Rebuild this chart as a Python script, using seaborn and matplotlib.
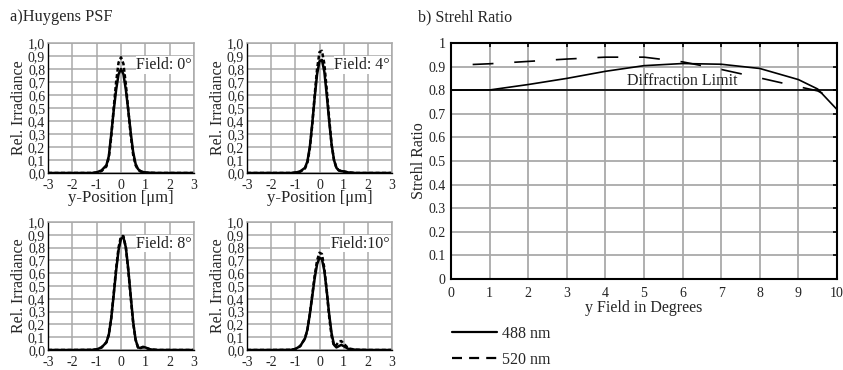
import numpy as np
import pandas as pd
import matplotlib
matplotlib.use("Agg")
import matplotlib.pyplot as plt
from matplotlib.lines import Line2D
import seaborn as sns

# ---------------- data ----------------
psf_x = [-3, -2, -1.2, -1.0, -0.8, -0.6, -0.5, -0.4, -0.3, -0.2, -0.1, 0.0,
         0.1, 0.2, 0.3, 0.4, 0.5, 0.6, 0.7, 0.8, 0.9, 1.0, 1.2, 1.5, 2, 3]

f0_488 = [0, 0, 0, 0.005, 0.02, 0.06, 0.13, 0.30, 0.48, 0.64, 0.76, 0.80,
          0.76, 0.64, 0.48, 0.31, 0.16, 0.07, 0.03, 0.015, 0.008, 0.004, 0.002, 0, 0, 0]
f0_520 = [0, 0, 0, 0.004, 0.015, 0.05, 0.12, 0.28, 0.50, 0.70, 0.85, 0.89,
          0.84, 0.68, 0.48, 0.29, 0.14, 0.06, 0.025, 0.012, 0.006, 0.003, 0.001, 0, 0, 0]
f4_488 = [0, 0, 0, 0.003, 0.012, 0.04, 0.09, 0.20, 0.38, 0.58, 0.76, 0.86,
          0.87, 0.78, 0.60, 0.40, 0.22, 0.10, 0.04, 0.02, 0.015, 0.012, 0.004, 0, 0, 0]
f4_520 = [0, 0, 0, 0.003, 0.01, 0.035, 0.08, 0.19, 0.37, 0.60, 0.80, 0.93,
          0.94, 0.84, 0.64, 0.42, 0.22, 0.10, 0.04, 0.02, 0.015, 0.012, 0.004, 0, 0, 0]
f8_488 = [0, 0, 0.001, 0.005, 0.02, 0.06, 0.12, 0.25, 0.43, 0.62, 0.78, 0.87,
          0.88, 0.80, 0.63, 0.42, 0.22, 0.08, 0.02, 0.015, 0.025, 0.02, 0.005, 0, 0, 0]
f8_520 = [0, 0, 0.001, 0.005, 0.02, 0.06, 0.12, 0.25, 0.44, 0.64, 0.80, 0.89,
          0.89, 0.80, 0.62, 0.41, 0.21, 0.08, 0.02, 0.015, 0.022, 0.018, 0.005, 0, 0, 0]
f10_488 = [0, 0, 0.001, 0.008, 0.03, 0.09, 0.16, 0.28, 0.42, 0.56, 0.67, 0.72,
           0.71, 0.62, 0.46, 0.28, 0.13, 0.04, 0.02, 0.03, 0.04, 0.03, 0.008, 0.002, 0, 0]
f10_520 = [0, 0, 0.001, 0.008, 0.03, 0.09, 0.16, 0.28, 0.43, 0.58, 0.70, 0.76,
           0.75, 0.64, 0.46, 0.26, 0.11, 0.03, 0.04, 0.065, 0.07, 0.05, 0.012, 0.002, 0, 0]

field_labels = ["Field: 0°", "Field: 4°", "Field: 8°", "Field:10°"]
psf_ticks_x = [-3, -2, -1, 0, 1, 2, 3]
psf_ticks_y = [0.0, 0.1, 0.2, 0.3, 0.4, 0.5, 0.6, 0.7, 0.8, 0.9, 1.0]
psf_ticklabels_y = ["0,0", "0,1", "0,2", "0,3", "0,4", "0,5", "0,6", "0,7", "0,8", "0,9", "1,0"]

strehl_x_488 = [0, 1, 2, 3, 4, 5, 6, 7, 8, 9, 9.5, 10]
strehl_488 = [0.800, 0.801, 0.824, 0.850, 0.880, 0.904, 0.913, 0.910, 0.892, 0.845, 0.805, 0.718]
strehl_x_520 = [0, 1, 2, 3, 4, 5, 6, 7, 8, 9, 9.5, 10]
strehl_520 = [0.905, 0.912, 0.922, 0.932, 0.940, 0.940, 0.920, 0.888, 0.852, 0.815, 0.797, 0.754]
diffraction_limit = 0.8
wavelengths = ["488 nm", "520 nm"]

# ---------------- style ----------------
sns.set_theme(style="white")
plt.rcParams["font.family"] = ["Liberation Serif", "DejaVu Serif"]
GRID = "#a9a9a9"

W, H = 843, 370
fig = plt.figure(figsize=(W / 100, H / 100), dpi=100)


def ax_px(x0, y0, x1, y1):
    return fig.add_axes([x0 / W, 1 - y1 / H, (x1 - x0) / W, (y1 - y0) / H])


psf_boxes = [(48, 43, 194, 173), (247, 43, 392, 173),
             (48, 222, 194, 350), (247, 222, 392, 350)]
psf_data = [(f0_488, f0_520), (f4_488, f4_520), (f8_488, f8_520), (f10_488, f10_520)]
psf_top_row = [True, True, False, False]

for box, (s488, s520), lab, top in zip(psf_boxes, psf_data, field_labels, psf_top_row):
    ax = ax_px(*box)
    df = pd.DataFrame({
        "x": psf_x * 2,
        "irr": list(s488) + list(s520),
        "wl": [wavelengths[0]] * len(psf_x) + [wavelengths[1]] * len(psf_x),
    })
    sns.lineplot(data=df, x="x", y="irr", style="wl",
                 dashes={wavelengths[0]: "", wavelengths[1]: (1.6, 1.0)},
                 color="black", ax=ax, legend=False, sort=False)
    for ln in ax.lines:
        ln.set_linewidth(1.8)
    ax.set_xlim(-3, 3)
    ax.set_ylim(0, 1.0)
    ax.set_xticks(psf_ticks_x)
    ax.set_xticklabels([str(t) for t in psf_ticks_x])
    ax.set_yticks(psf_ticks_y)
    ax.set_yticklabels(psf_ticklabels_y)
    ax.grid(True, color=GRID, linewidth=1.1)
    ax.set_axisbelow(True)
    for s in ["top", "right"]:
        ax.spines[s].set_color(GRID)
        ax.spines[s].set_linewidth(1.1)
    for s in ["left", "bottom"]:
        ax.spines[s].set_color("black")
        ax.spines[s].set_linewidth(1.0)
    ax.tick_params(axis="both", length=0, labelsize=10, colors="#222222")
    ax.tick_params(axis="x", pad=4)
    ax.tick_params(axis="y", pad=2)
    ax.set_ylabel("Rel. Irradiance", fontsize=11.5, labelpad=1)
    if top:
        ax.set_xlabel("y-Position [μm]", fontsize=12, labelpad=-1)
    else:
        ax.set_xlabel("")
    ax.text(2.92, 0.83, lab, ha="right", va="center", fontsize=11.5,
            color="#222222",
            bbox=dict(facecolor="white", edgecolor="none", pad=0.5))

# ---------------- Strehl ----------------
ax = ax_px(451, 43, 837, 279)
df_s = pd.DataFrame({
    "x": strehl_x_488 + strehl_x_520,
    "s": strehl_488 + strehl_520,
    "wl": [wavelengths[0]] * len(strehl_x_488) + [wavelengths[1]] * len(strehl_x_520),
})
sns.lineplot(data=df_s, x="x", y="s", style="wl",
             dashes={wavelengths[0]: "", wavelengths[1]: (12, 12)},
             color="black", ax=ax, legend=False, sort=False)
for ln in ax.lines:
    ln.set_linewidth(1.2)
ax.lines[1].set_linestyle((12, (12.5, 12.5)))
ax.axhline(diffraction_limit, color="black", linewidth=1.2)
ax.text(6.0, diffraction_limit + 0.003, "Diffraction Limit", ha="center", va="bottom",
        fontsize=11.5, color="#222222")
ax.set_xlim(0, 10)
ax.set_ylim(0, 1)
ax.set_xticks(range(0, 11))
ax.set_xticklabels([str(i) for i in range(0, 11)])
yt = [0, 0.1, 0.2, 0.3, 0.4, 0.5, 0.6, 0.7, 0.8, 0.9, 1]
ax.set_yticks(yt)
ax.set_yticklabels(["0", "0.1", "0.2", "0.3", "0.4", "0.5", "0.6", "0.7", "0.8", "0.9", "1"])
ax.grid(True, color=GRID, linewidth=1.3)
ax.set_axisbelow(True)
for s in ax.spines.values():
    s.set_color("black")
    s.set_linewidth(1.5)
ax.tick_params(axis="both", direction="in", length=3, width=1.2, colors="black",
               labelsize=10, top=True, right=True, labelcolor="#222222")
ax.tick_params(axis="x", pad=6)
ax.tick_params(axis="y", pad=4)
ax.set_xlabel("y Field in Degrees", fontsize=11.5, labelpad=0)
ax.set_ylabel("Strehl Ratio", fontsize=11.5, labelpad=1)

handles = [Line2D([], [], color="black", linewidth=1.6),
           Line2D([], [], color="black", linewidth=1.6, linestyle=(0, (4.5, 3.2)))]
fig.legend(handles, wavelengths, loc="upper left",
           bbox_to_anchor=(452 / W, 1 - 326 / H), frameon=False,
           fontsize=11.5, handlelength=2.8, handletextpad=0.35,
           labelspacing=0.6, borderpad=0, borderaxespad=0)

fig.text(10 / W, 1 - 17 / H, "a)Huygens PSF", ha="left", va="center", fontsize=11.8)
fig.text(418 / W, 1 - 17 / H, "b) Strehl Ratio", ha="left", va="center", fontsize=11.5)

fig.savefig("out.png", dpi=100)
